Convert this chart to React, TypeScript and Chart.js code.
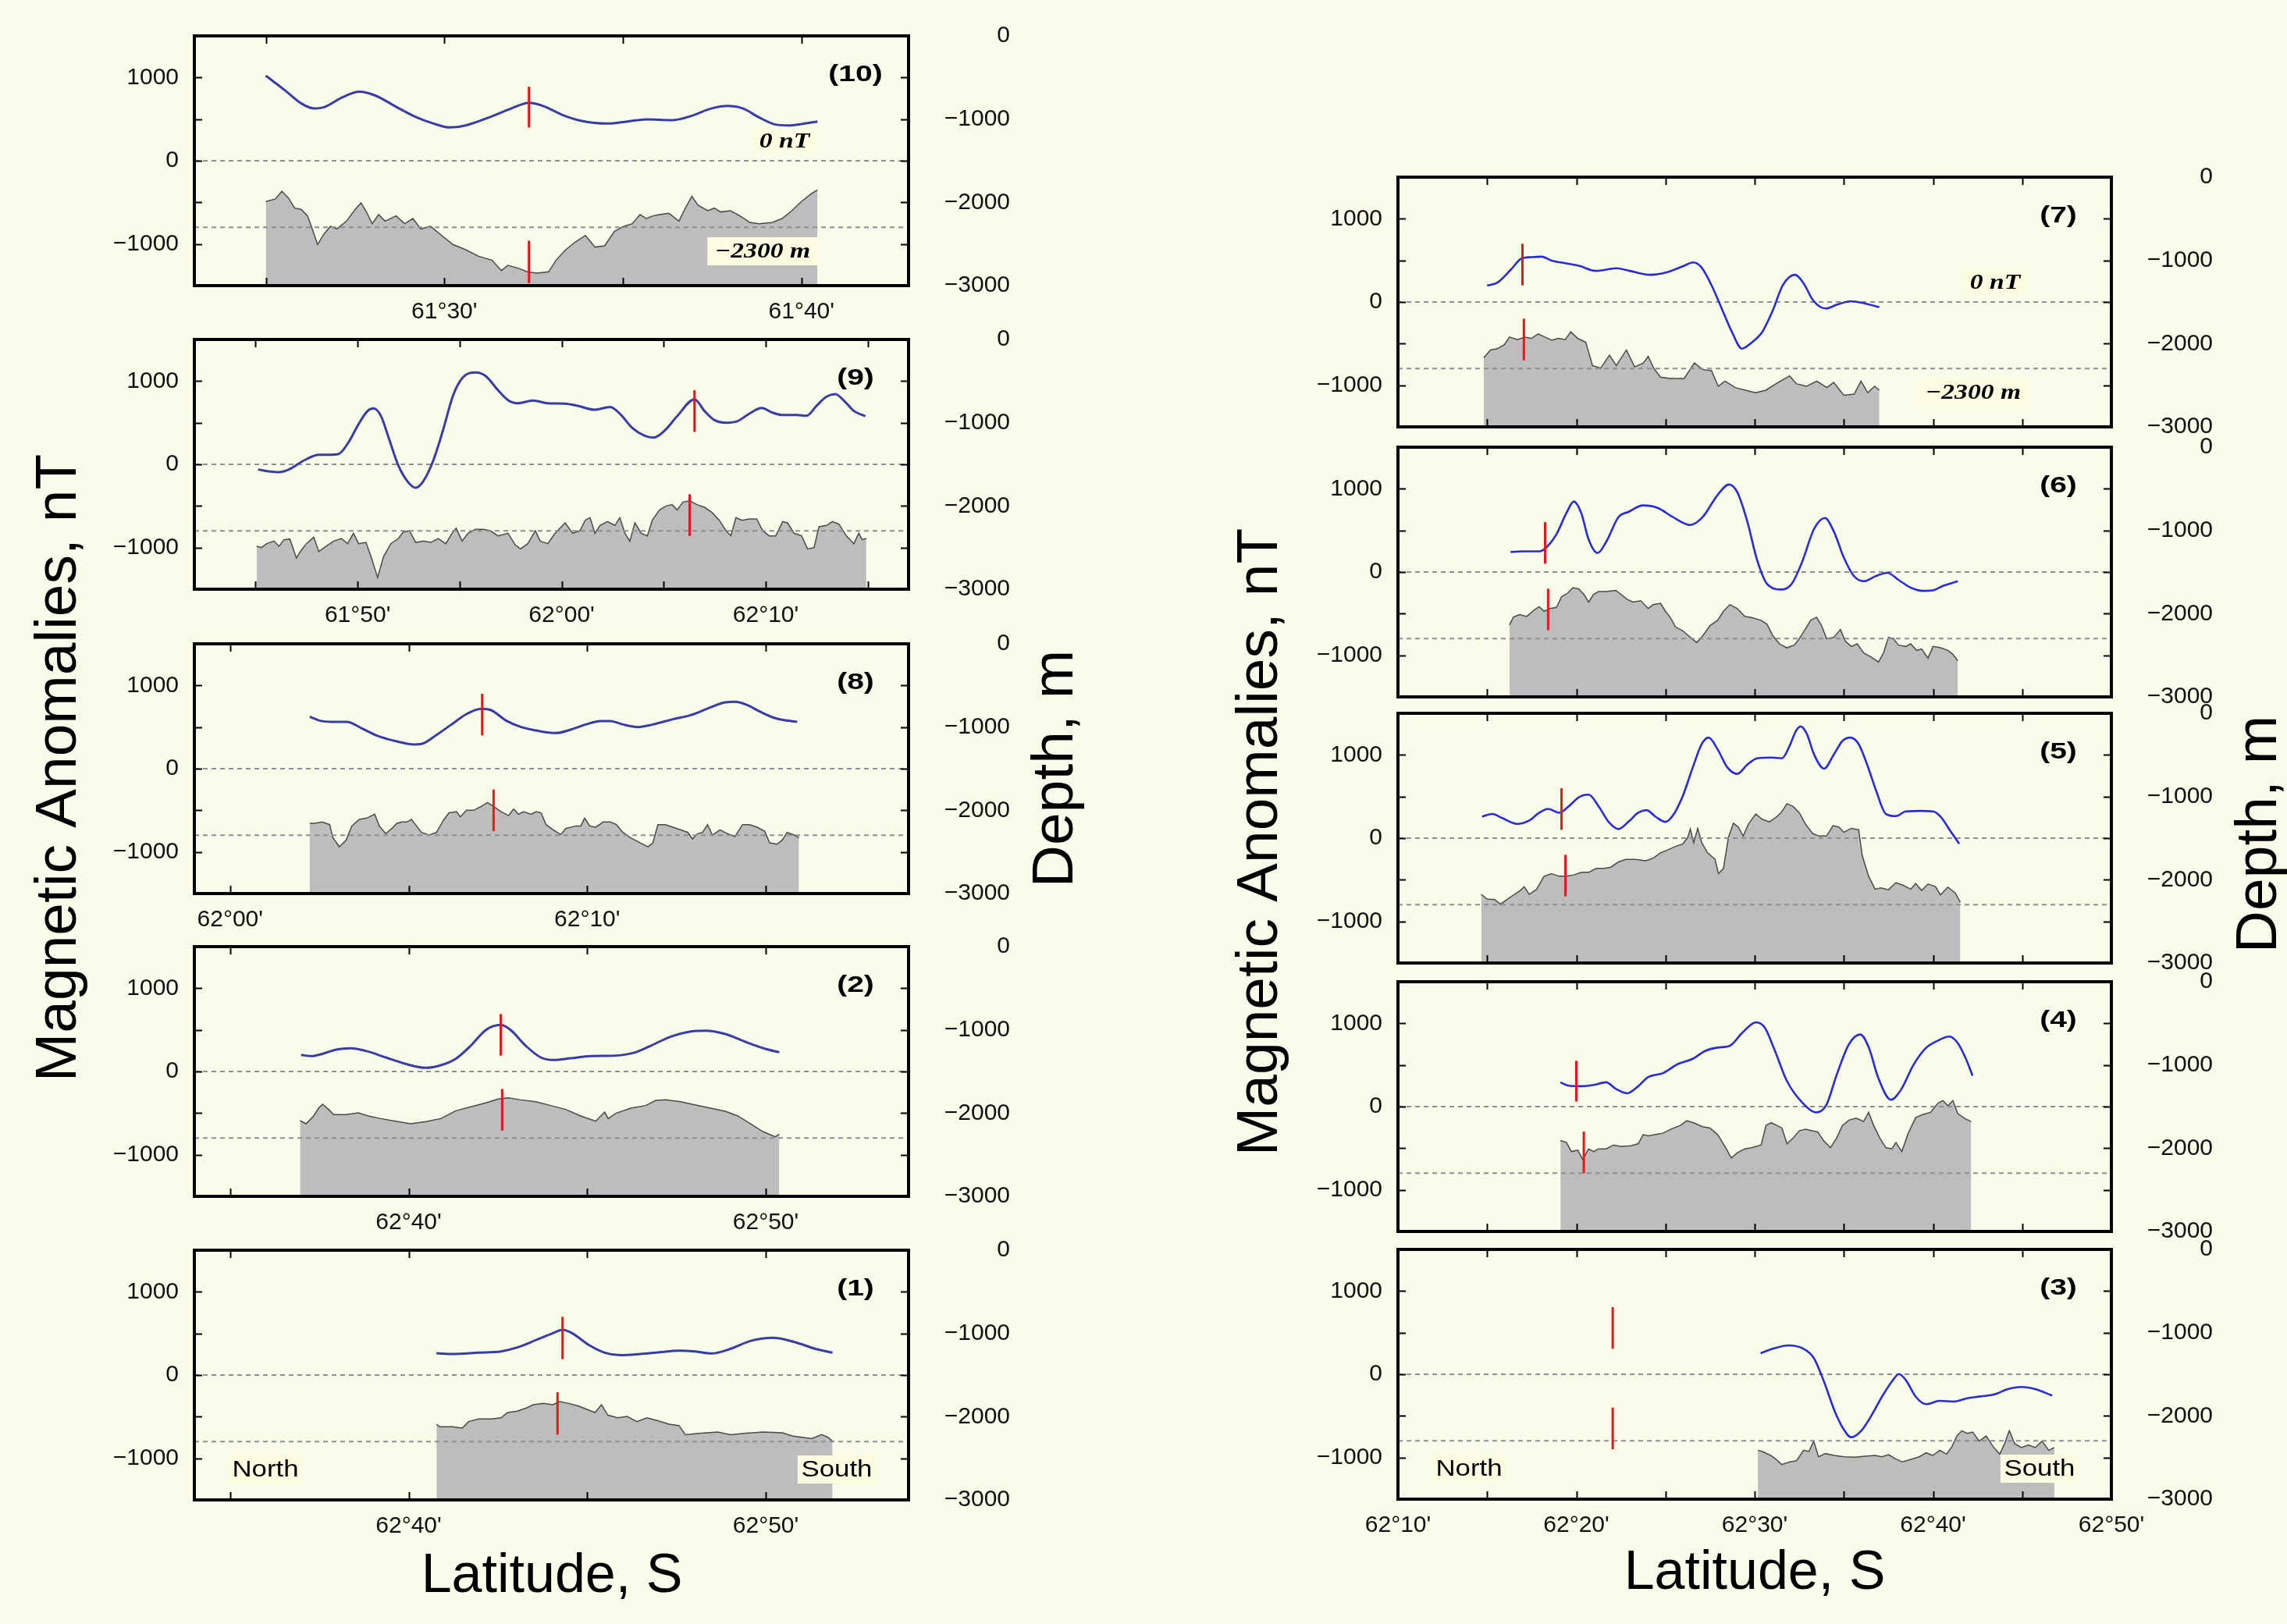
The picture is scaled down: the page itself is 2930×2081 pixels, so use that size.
import React, { useEffect, useRef } from "react";
import { Chart, registerables } from "chart.js";

Chart.register(...registerables);

const BG = "#F7FDE8";
const SANS = "'Liberation Sans', Arial, Helvetica, sans-serif";
const SERIF = "'Liberation Serif', 'Times New Roman', serif";

// reference values
const ZERO_NT = 0;
const REF_DEPTH = -2300;
const NT_MIN = -1500;
const NT_MAX = 1500;
const DEPTH_MIN = -3000;
const DEPTH_MAX = 0;
const NT_TICKS = [-1000, -500, 0, 500, 1000];
const DEPTH_TICKS = [0, -1000, -2000, -3000];

// ---------- Profile (10)  lat = minutes past 61°
const P10_MAG = [[25.0,1022],[25.54,845],[25.99,690],[26.36,627],[26.63,643],[27.17,767],[27.62,829],[28.07,783],[28.61,658],[29.16,534],[29.7,447],[30.15,400],[30.6,425],[31.33,534],[31.87,627],[32.37,696],[32.77,658],[33.31,550],[33.85,478],[34.58,447],[35.12,472],[35.66,497],[36.39,488],[36.93,540],[37.47,627],[37.92,658],[38.37,627],[38.82,519],[39.28,435],[39.64,425],[40.0,441],[40.45,472]];
const P10_BATH = [[25.0,-1990],[25.27,-1959],[25.45,-1866],[25.63,-1944],[25.81,-2069],[25.99,-2084],[26.17,-2162],[26.3,-2319],[26.45,-2506],[26.63,-2381],[26.81,-2287],[26.99,-2319],[27.26,-2225],[27.53,-2069],[27.67,-2006],[27.8,-2100],[27.98,-2256],[28.16,-2147],[28.34,-2225],[28.65,-2162],[28.89,-2256],[29.12,-2194],[29.34,-2319],[29.61,-2287],[29.88,-2381],[30.24,-2506],[30.6,-2569],[30.96,-2647],[31.33,-2694],[31.6,-2819],[31.78,-2756],[32.05,-2788],[32.32,-2834],[32.59,-2850],[32.92,-2834],[33.13,-2694],[33.4,-2569],[33.67,-2475],[33.95,-2397],[34.22,-2537],[34.49,-2522],[34.76,-2350],[35.03,-2287],[35.26,-2256],[35.48,-2147],[35.66,-2194],[35.84,-2162],[36.02,-2147],[36.29,-2131],[36.57,-2225],[36.75,-2069],[36.93,-1928],[37.11,-2037],[37.38,-2100],[37.56,-2069],[37.74,-2115],[38.01,-2100],[38.28,-2162],[38.55,-2240],[38.82,-2256],[39.19,-2240],[39.46,-2194],[39.73,-2100],[40.0,-1990],[40.27,-1897],[40.45,-1850]];
const P10_MAG_MARK = [[32.37,400,890]];
const P10_BATH_MARK = [[32.37,-2970,-2460]];

// ---------- Profile (9)  lat = minutes past 61°
const P9_MAG = [[45.12,-62],[45.66,-84],[46.15,-94],[46.63,-62],[47.37,47],[48.1,116],[48.59,116],[49.07,125],[49.56,266],[50.05,484],[50.49,641],[50.78,672],[51.15,578],[51.51,328],[52.0,-16],[52.49,-219],[52.85,-281],[53.22,-203],[53.71,47],[54.2,422],[54.68,828],[55.17,1047],[55.78,1103],[56.27,1062],[56.88,891],[57.37,772],[57.85,734],[58.59,766],[59.32,734],[60.17,728],[60.78,703],[61.63,656],[62.37,688],[62.85,609],[63.46,438],[64.07,344],[64.51,322],[65.05,406],[65.66,578],[66.51,781],[67.0,641],[67.49,531],[68.1,500],[68.59,516],[69.2,609],[69.8,678],[70.29,625],[70.78,594],[71.51,594],[72.0,584],[72.49,703],[72.98,813],[73.41,844],[73.83,766],[74.32,641],[74.88,578]];
const P9_BATH = [[45.05,-2484],[45.29,-2500],[45.54,-2453],[45.9,-2422],[46.15,-2484],[46.39,-2406],[46.68,-2397],[47.0,-2625],[47.24,-2531],[47.49,-2453],[47.85,-2375],[48.1,-2547],[48.46,-2484],[48.83,-2422],[49.2,-2391],[49.51,-2453],[49.8,-2328],[50.05,-2453],[50.41,-2438],[50.66,-2609],[50.98,-2859],[51.27,-2609],[51.63,-2453],[52.0,-2391],[52.24,-2313],[52.54,-2297],[52.85,-2438],[53.22,-2422],[53.59,-2438],[53.95,-2391],[54.32,-2453],[54.63,-2328],[54.83,-2266],[55.12,-2422],[55.41,-2328],[55.78,-2281],[56.15,-2281],[56.51,-2297],[56.88,-2359],[57.37,-2328],[57.73,-2469],[57.98,-2516],[58.34,-2453],[58.71,-2297],[58.95,-2422],[59.32,-2453],[59.68,-2328],[60.17,-2203],[60.54,-2328],[60.9,-2297],[61.15,-2172],[61.39,-2141],[61.63,-2328],[61.88,-2234],[62.24,-2188],[62.61,-2234],[62.85,-2141],[63.1,-2328],[63.34,-2422],[63.59,-2203],[63.9,-2328],[64.2,-2359],[64.44,-2172],[64.8,-2047],[65.12,-2000],[65.41,-1984],[65.66,-2047],[65.95,-1953],[66.27,-1938],[66.63,-1984],[67.0,-2016],[67.37,-2078],[67.73,-2172],[68.05,-2297],[68.29,-2359],[68.54,-2141],[68.83,-2172],[69.2,-2156],[69.56,-2156],[69.85,-2297],[70.17,-2359],[70.49,-2359],[70.83,-2188],[71.07,-2203],[71.39,-2328],[71.76,-2359],[72.05,-2516],[72.37,-2500],[72.61,-2250],[72.98,-2234],[73.27,-2188],[73.59,-2219],[73.95,-2359],[74.32,-2453],[74.56,-2328],[74.73,-2406],[74.93,-2391]];
const P9_MAG_MARK = [[66.51,390,890]];
const P9_BATH_MARK = [[66.27,-2360,-1860]];

// ---------- Profile (8)  lat = minutes past 62°
const P8_MAG = [[2.23,625],[2.51,578],[2.86,563],[3.27,563],[3.69,484],[4.11,397],[4.67,328],[5.15,291],[5.36,297],[5.78,406],[6.2,531],[6.62,656],[7.03,719],[7.31,703],[7.73,578],[8.15,500],[8.57,459],[9.12,428],[9.54,469],[9.96,531],[10.38,572],[10.65,572],[11.0,531],[11.42,500],[11.84,531],[12.4,594],[12.88,641],[13.44,734],[13.86,797],[14.14,803],[14.48,766],[14.83,688],[15.25,609],[15.6,578],[15.88,563]];
const P8_BATH = [[2.23,-2156],[2.37,-2156],[2.58,-2141],[2.79,-2172],[2.88,-2328],[3.06,-2438],[3.25,-2359],[3.41,-2188],[3.62,-2109],[3.83,-2094],[4.05,-2047],[4.18,-2188],[4.36,-2281],[4.53,-2219],[4.67,-2156],[4.81,-2141],[4.95,-2141],[5.08,-2109],[5.22,-2188],[5.36,-2266],[5.57,-2297],[5.78,-2266],[5.99,-2109],[6.13,-2031],[6.34,-2016],[6.45,-2078],[6.62,-2000],[6.82,-2000],[7.03,-1953],[7.21,-1906],[7.38,-1953],[7.59,-2016],[7.8,-2063],[7.94,-1984],[8.08,-2047],[8.22,-2016],[8.43,-2047],[8.57,-2016],[8.71,-2031],[8.85,-2172],[9.05,-2234],[9.26,-2291],[9.4,-2219],[9.68,-2188],[9.82,-2188],[9.93,-2094],[10.07,-2188],[10.24,-2203],[10.45,-2141],[10.65,-2141],[10.82,-2172],[11.0,-2266],[11.21,-2328],[11.49,-2391],[11.7,-2438],[11.84,-2391],[11.98,-2172],[12.19,-2172],[12.4,-2203],[12.61,-2234],[12.82,-2266],[12.95,-2344],[13.09,-2281],[13.23,-2266],[13.37,-2172],[13.51,-2297],[13.72,-2234],[13.93,-2281],[14.14,-2313],[14.35,-2172],[14.55,-2172],[14.76,-2203],[14.97,-2250],[15.11,-2391],[15.32,-2406],[15.46,-2359],[15.6,-2266],[15.79,-2297],[15.93,-2328]];
const P8_MAG_MARK = [[7.06,400,900]];
const P8_BATH_MARK = [[7.38,-2250,-1750]];

// ---------- Profile (2)  lat = minutes past 62°
const P2_MAG = [[36.99,200],[37.27,184],[37.62,216],[37.97,263],[38.38,278],[38.8,247],[39.36,169],[39.92,91],[40.48,44],[40.9,75],[41.32,153],[41.74,309],[42.16,497],[42.58,559],[42.86,497],[43.28,309],[43.7,169],[44.05,138],[44.54,159],[45.1,184],[45.8,191],[46.36,231],[46.78,309],[47.34,419],[47.9,481],[48.31,491],[48.87,450],[49.43,356],[49.99,272],[50.38,231]];
const P2_BATH = [[36.96,-2091],[37.13,-2128],[37.34,-2034],[37.48,-1941],[37.59,-1894],[37.76,-1956],[37.9,-2019],[38.24,-2019],[38.59,-1997],[38.87,-2034],[39.22,-2066],[39.64,-2097],[40.06,-2128],[40.48,-2103],[40.9,-2066],[41.32,-1972],[41.74,-1925],[42.16,-1878],[42.51,-1831],[42.79,-1816],[43.14,-1841],[43.56,-1863],[43.98,-1909],[44.4,-1956],[44.82,-2034],[45.24,-2097],[45.38,-2034],[45.49,-1988],[45.59,-2066],[45.8,-2003],[46.22,-1941],[46.64,-1909],[46.92,-1847],[47.2,-1841],[47.62,-1863],[48.04,-1903],[48.46,-1941],[48.87,-1978],[49.22,-2034],[49.57,-2128],[49.92,-2222],[50.27,-2284],[50.38,-2253]];
const P2_MAG_MARK = [[42.58,190,690]];
const P2_BATH_MARK = [[42.62,-2210,-1710]];

// ---------- Profile (1)  lat = minutes past 62°
const P1_MAG = [[40.78,263],[41.23,253],[41.96,269],[42.59,284],[43.04,331],[43.59,425],[44.04,503],[44.31,544],[44.58,503],[45.04,363],[45.49,269],[45.94,238],[46.49,253],[47.03,275],[47.57,294],[48.03,284],[48.48,259],[49.02,316],[49.57,409],[50.2,447],[50.83,394],[51.38,316],[51.87,269]];
const P1_BATH = [[40.78,-2091],[40.87,-2122],[41.23,-2122],[41.5,-2138],[41.68,-2059],[41.96,-2028],[42.32,-2028],[42.59,-2013],[42.77,-1950],[43.04,-1934],[43.31,-1894],[43.49,-1856],[43.77,-1841],[44.04,-1856],[44.22,-1819],[44.49,-1841],[44.76,-1872],[45.04,-1919],[45.22,-1950],[45.4,-1856],[45.58,-1981],[45.85,-2013],[46.12,-1997],[46.39,-2059],[46.67,-2013],[46.94,-2044],[47.3,-2091],[47.57,-2106],[47.75,-2216],[48.12,-2200],[48.66,-2184],[49.02,-2216],[49.38,-2200],[49.93,-2184],[50.47,-2194],[50.74,-2231],[51.01,-2247],[51.29,-2263],[51.56,-2216],[51.74,-2247],[51.87,-2294]];
const P1_MAG_MARK = [[44.31,190,700]];
const P1_BATH_MARK = [[44.17,-2216,-1706]];

// ---------- Profile (7)  lat = minutes past 62°
const P7_MAG = [[15.0,196],[15.57,233],[16.33,389],[16.91,520],[17.48,539],[18.05,545],[18.62,498],[19.38,467],[20.14,436],[21.1,374],[22.24,405],[23.0,374],[24.15,327],[25.1,358],[26.05,436],[26.55,476],[27.0,420],[27.58,202],[28.15,-78],[28.72,-358],[29.29,-560],[29.86,-482],[30.43,-358],[31.0,-109],[31.58,202],[32.26,327],[32.72,233],[33.29,16],[33.98,-78],[34.63,-31],[35.39,9],[36.15,-16],[36.99,-62]];
const P7_BATH = [[14.81,-2170],[15.19,-2076],[15.57,-2061],[15.95,-2014],[16.26,-1921],[16.71,-1952],[17.1,-1921],[17.48,-1936],[17.86,-1883],[18.24,-1921],[18.62,-1958],[19.0,-1936],[19.38,-1952],[19.69,-1858],[20.07,-1936],[20.53,-1983],[20.91,-2263],[21.37,-2294],[21.86,-2139],[22.24,-2263],[22.81,-2076],[23.27,-2279],[23.76,-2232],[24.03,-2154],[24.34,-2294],[24.72,-2403],[25.29,-2419],[26.05,-2419],[26.62,-2232],[27.08,-2310],[27.58,-2325],[27.96,-2512],[28.34,-2450],[28.91,-2528],[29.48,-2559],[30.06,-2590],[30.63,-2559],[31.2,-2481],[31.96,-2388],[32.34,-2481],[32.91,-2512],[33.48,-2450],[34.05,-2528],[34.43,-2466],[35.0,-2621],[35.58,-2606],[35.96,-2450],[36.34,-2590],[36.72,-2512],[36.99,-2559]];
const P7_MAG_MARK = [[16.98,200,700]];
const P7_BATH_MARK = [[17.06,-2200,-1700]];

// ---------- Profile (6)
const P6_MAG = [[16.31,242],[17.08,248],[17.92,248],[18.33,298],[18.89,455],[19.44,706],[19.86,847],[20.28,706],[20.69,392],[21.19,229],[21.67,361],[22.36,659],[22.92,722],[23.75,800],[24.58,769],[25.42,659],[26.39,565],[27.08,659],[27.92,925],[28.56,1051],[29.03,957],[29.58,612],[30.14,141],[30.69,-141],[31.53,-210],[32.08,-141],[32.64,110],[33.33,518],[33.94,649],[34.44,486],[35.0,173],[35.56,-47],[36.11,-110],[36.81,-47],[37.44,-9],[38.06,-94],[38.75,-188],[39.44,-226],[40.0,-220],[40.56,-166],[41.39,-110]];
const P6_BATH = [[16.25,-2137],[16.47,-2043],[16.81,-2011],[17.22,-2033],[17.64,-1955],[17.92,-1917],[18.19,-1971],[18.53,-1939],[18.89,-1924],[19.17,-1798],[19.53,-1751],[19.81,-1688],[20.14,-1704],[20.42,-1767],[20.69,-1861],[20.97,-1767],[21.25,-1735],[21.67,-1735],[22.22,-1720],[22.5,-1767],[22.86,-1829],[23.19,-1861],[23.61,-1845],[24.03,-1939],[24.31,-1892],[24.72,-1876],[25.0,-1971],[25.28,-2049],[25.56,-2159],[25.97,-2206],[26.39,-2284],[26.75,-2347],[27.08,-2269],[27.5,-2143],[27.92,-2080],[28.25,-1971],[28.61,-1892],[29.03,-1939],[29.44,-2033],[29.86,-2049],[30.36,-2080],[30.69,-2127],[31.03,-2269],[31.39,-2363],[31.81,-2410],[32.22,-2378],[32.5,-2300],[32.78,-2206],[33.14,-2080],[33.47,-2043],[33.75,-2143],[34.03,-2300],[34.44,-2284],[34.81,-2190],[35.08,-2331],[35.42,-2394],[35.75,-2363],[36.11,-2473],[36.53,-2520],[36.94,-2582],[37.22,-2473],[37.5,-2284],[37.78,-2300],[38.06,-2378],[38.47,-2394],[38.75,-2363],[39.08,-2441],[39.36,-2425],[39.72,-2535],[40.0,-2394],[40.42,-2410],[40.83,-2441],[41.11,-2488],[41.39,-2567]];
const P6_MAG_MARK = [[18.25,100,600]];
const P6_BATH_MARK = [[18.42,-2200,-1700]];

// ---------- Profile (5)
const P5_MAG = [[14.72,258],[15.28,290],[15.83,243],[16.67,171],[17.36,212],[17.92,305],[18.42,352],[19.03,305],[19.58,383],[20.14,492],[20.69,523],[21.25,383],[21.81,196],[22.36,109],[22.92,196],[23.47,305],[23.94,336],[24.44,258],[25.0,196],[25.42,274],[25.97,507],[26.53,850],[27.03,1130],[27.42,1208],[27.92,1068],[28.47,850],[29.03,772],[29.58,881],[30.14,959],[30.97,968],[31.53,959],[31.94,1099],[32.31,1286],[32.58,1342],[32.92,1255],[33.33,1006],[33.89,834],[34.44,1006],[34.92,1167],[35.36,1208],[35.83,1130],[36.31,881],[36.81,570],[37.36,290],[37.92,265],[38.47,321],[39.31,327],[40.0,321],[40.42,258],[40.97,87],[41.47,-68]];
const P5_BATH = [[14.67,-2175],[15.0,-2232],[15.42,-2238],[15.75,-2294],[16.11,-2238],[16.53,-2175],[16.86,-2129],[17.08,-2082],[17.36,-2175],[17.78,-2113],[18.19,-1958],[18.61,-1926],[19.03,-1958],[19.44,-1958],[19.86,-1942],[20.28,-1911],[20.69,-1911],[21.11,-1864],[21.53,-1864],[21.94,-1849],[22.36,-1786],[22.78,-1755],[23.33,-1755],[23.89,-1771],[24.31,-1740],[24.72,-1677],[25.14,-1640],[25.56,-1600],[25.97,-1569],[26.25,-1491],[26.39,-1391],[26.58,-1553],[26.81,-1382],[27.03,-1553],[27.36,-1677],[27.78,-1755],[27.97,-1926],[28.25,-1864],[28.53,-1491],[28.81,-1320],[29.08,-1366],[29.36,-1475],[29.64,-1335],[30.06,-1211],[30.42,-1273],[30.83,-1304],[31.25,-1242],[31.53,-1180],[31.81,-1086],[32.14,-1117],[32.5,-1195],[32.86,-1335],[33.25,-1444],[33.61,-1475],[34.03,-1475],[34.39,-1351],[34.72,-1366],[35.0,-1429],[35.42,-1382],[35.83,-1398],[36.03,-1709],[36.39,-1958],[36.75,-2113],[37.08,-2098],[37.5,-2120],[37.92,-2035],[38.33,-2067],[38.75,-2113],[39.03,-2045],[39.36,-2129],[39.72,-2051],[40.14,-2082],[40.42,-2182],[40.83,-2088],[41.25,-2160],[41.53,-2269]];
const P5_MAG_MARK = [[19.17,100,600]];
const P5_BATH_MARK = [[19.39,-2200,-1700]];

// ---------- Profile (4)
const P4_MAG = [[19.11,292],[19.58,251],[20.28,245],[20.97,260],[21.67,292],[22.22,213],[22.86,160],[23.47,245],[24.03,354],[24.86,402],[25.69,511],[26.53,574],[27.22,668],[27.92,709],[28.61,731],[29.31,888],[30.08,1013],[30.56,951],[31.11,684],[31.81,307],[32.64,56],[33.47,-69],[34.03,25],[34.58,370],[35.28,747],[35.92,866],[36.39,715],[36.94,339],[37.64,82],[38.19,198],[38.89,496],[39.58,700],[40.28,794],[40.92,841],[41.39,762],[41.81,590],[42.22,370]];
const P4_BATH = [[19.11,-1908],[19.44,-1930],[19.72,-2040],[20.08,-2024],[20.36,-2134],[20.69,-2008],[20.97,-2040],[21.25,-2008],[21.67,-2008],[22.08,-1961],[22.5,-1977],[23.06,-1971],[23.47,-1946],[23.75,-1836],[24.03,-1851],[24.44,-1836],[24.86,-1820],[25.28,-1773],[25.83,-1726],[26.19,-1669],[26.58,-1694],[27.08,-1741],[27.5,-1757],[27.92,-1836],[28.33,-1977],[28.69,-2118],[29.03,-2055],[29.44,-2008],[29.86,-1993],[30.36,-1961],[30.64,-1726],[30.92,-1694],[31.25,-1726],[31.53,-1757],[31.81,-1946],[32.14,-1883],[32.5,-1789],[32.86,-1773],[33.19,-1789],[33.53,-1804],[33.89,-1914],[34.25,-1993],[34.58,-1883],[34.92,-1726],[35.28,-1663],[35.69,-1638],[36.11,-1679],[36.39,-1569],[36.67,-1726],[37.03,-1883],[37.36,-1993],[37.69,-2008],[37.92,-1930],[38.25,-2040],[38.61,-1820],[39.03,-1632],[39.44,-1594],[39.86,-1569],[40.28,-1459],[40.56,-1428],[40.83,-1491],[41.11,-1428],[41.39,-1585],[41.81,-1647],[42.14,-1679]];
const P4_MAG_MARK = [[20.0,60,550]];
const P4_BATH_MARK = [[20.42,-2300,-1800]];

// ---------- Profile (3)
const P3_MAG = [[30.33,253],[31.02,306],[31.9,347],[32.74,306],[33.31,197],[33.88,-84],[34.46,-428],[34.95,-647],[35.41,-756],[35.98,-678],[36.56,-491],[37.13,-272],[37.7,-84],[38.09,3],[38.47,-69],[39.04,-272],[39.61,-359],[40.38,-319],[41.14,-328],[41.91,-288],[42.67,-266],[43.44,-241],[44.2,-178],[44.96,-153],[45.73,-178],[46.68,-256]];
const P3_BATH = [[30.18,-2413],[30.44,-2428],[30.9,-2475],[31.21,-2522],[31.51,-2584],[31.97,-2553],[32.35,-2538],[32.74,-2413],[33.04,-2428],[33.31,-2303],[33.58,-2491],[33.96,-2453],[34.46,-2475],[35.03,-2491],[35.6,-2497],[36.18,-2484],[36.75,-2475],[37.13,-2491],[37.51,-2466],[37.9,-2516],[38.28,-2553],[38.77,-2522],[39.23,-2491],[39.61,-2444],[39.99,-2475],[40.38,-2413],[40.76,-2459],[41.07,-2366],[41.34,-2241],[41.61,-2178],[41.91,-2209],[42.22,-2194],[42.59,-2303],[42.98,-2241],[43.36,-2366],[43.74,-2459],[44.01,-2334],[44.28,-2178],[44.58,-2334],[44.96,-2381],[45.35,-2350],[45.73,-2381],[46.11,-2303],[46.49,-2413],[46.8,-2381]];
const P3_MAG_MARK = [[22.04,306,806]];
const P3_BATH_MARK = [[22.04,-2400,-1900]];

// ---------- layout (pixels)
const COL_X = [249, 1791];
const COL_W = [915, 914];
const BOX_H = 320;
const AX_L = 130;
const AX_R = 130;
const PAD_T = 24;
const AX_B = 70;

interface PanelDef {
  name: string;
  col: number;
  top: number;
  deg: number;
  xMin: number;
  xMax: number;
  xLabels: boolean;
  mag: number[][];
  bath: number[][];
  magMark: number[][];
  bathMark: number[][];
  refLabels?: boolean;
  nsLabels?: boolean;
}

const PANELS: PanelDef[] = [
  { name: "(10)", col: 0, top: 46, deg: 61, xMin: 23, xMax: 43, xLabels: true, mag: P10_MAG, bath: P10_BATH, magMark: P10_MAG_MARK, bathMark: P10_BATH_MARK, refLabels: true },
  { name: "(9)", col: 0, top: 435, deg: 61, xMin: 42, xMax: 77, xLabels: true, mag: P9_MAG, bath: P9_BATH, magMark: P9_MAG_MARK, bathMark: P9_BATH_MARK },
  { name: "(8)", col: 0, top: 825, deg: 62, xMin: -1, xMax: 19, xLabels: true, mag: P8_MAG, bath: P8_BATH, magMark: P8_MAG_MARK, bathMark: P8_BATH_MARK },
  { name: "(2)", col: 0, top: 1213, deg: 62, xMin: 34, xMax: 54, xLabels: true, mag: P2_MAG, bath: P2_BATH, magMark: P2_MAG_MARK, bathMark: P2_BATH_MARK },
  { name: "(1)", col: 0, top: 1602, deg: 62, xMin: 34, xMax: 54, xLabels: true, mag: P1_MAG, bath: P1_BATH, magMark: P1_MAG_MARK, bathMark: P1_BATH_MARK, nsLabels: true },
  { name: "(7)", col: 1, top: 227, deg: 62, xMin: 10, xMax: 50, xLabels: false, mag: P7_MAG, bath: P7_BATH, magMark: P7_MAG_MARK, bathMark: P7_BATH_MARK, refLabels: true },
  { name: "(6)", col: 1, top: 573, deg: 62, xMin: 10, xMax: 50, xLabels: false, mag: P6_MAG, bath: P6_BATH, magMark: P6_MAG_MARK, bathMark: P6_BATH_MARK },
  { name: "(5)", col: 1, top: 914, deg: 62, xMin: 10, xMax: 50, xLabels: false, mag: P5_MAG, bath: P5_BATH, magMark: P5_MAG_MARK, bathMark: P5_BATH_MARK },
  { name: "(4)", col: 1, top: 1258, deg: 62, xMin: 10, xMax: 50, xLabels: false, mag: P4_MAG, bath: P4_BATH, magMark: P4_MAG_MARK, bathMark: P4_BATH_MARK },
  { name: "(3)", col: 1, top: 1601, deg: 62, xMin: 10, xMax: 50, xLabels: true, mag: P3_MAG, bath: P3_BATH, magMark: P3_MAG_MARK, bathMark: P3_BATH_MARK, nsLabels: true },
];

const MAG_COLORS = ["#3b3ba6", "#2a2ad6"];
const BATH_FILL = "#BDBDBD";
const BATH_LINE = "#4a4a4a";
const RED = "#E3191E";
const DASH = "#8d8d98";

const fmtLat = (v: number) => {
  const d = Math.floor(v / 60 + 1e-9);
  const m = Math.round(v - d * 60);
  return `${d}°${String(m).padStart(2, "0")}'`;
};
const fmtNum = (v: number) => (v < 0 ? "\u2212" + Math.abs(v) : String(v));

function drawText(ctx: CanvasRenderingContext2D, text: string, cx: number, cy: number, font: string, stretch: number, bg?: string, padX = 7, boxH = 0) {
  ctx.save();
  ctx.translate(cx, cy);
  ctx.scale(stretch, 1);
  ctx.font = font;
  const w = ctx.measureText(text).width;
  if (bg) {
    ctx.fillStyle = bg;
    ctx.fillRect(-w / 2 - padX, -boxH / 2, w + padX * 2, boxH);
  }
  ctx.fillStyle = "#000";
  ctx.textAlign = "center";
  ctx.textBaseline = "middle";
  ctx.fillText(text, 0, 1);
  ctx.restore();
}

const decorPlugin = {
  id: "decor",
  afterDraw(chart: any, _args: any, opts: any) {
    const { ctx, chartArea: a } = chart;
    const xs = chart.scales.x;
    const ys = chart.scales.y;
    const TL = 10;
    ctx.save();
    ctx.strokeStyle = "#000";
    ctx.lineWidth = 2;
    ctx.beginPath();
    xs.ticks.forEach((t: any) => {
      const px = Math.round(xs.getPixelForValue(t.value)) + 0.5;
      ctx.moveTo(px, a.bottom);
      ctx.lineTo(px, a.bottom - TL);
      ctx.moveTo(px, a.top);
      ctx.lineTo(px, a.top + TL);
    });
    ys.ticks.forEach((t: any) => {
      const py = Math.round(ys.getPixelForValue(t.value)) + 0.5;
      ctx.moveTo(a.left, py);
      ctx.lineTo(a.left + TL, py);
      ctx.moveTo(a.right, py);
      ctx.lineTo(a.right - TL, py);
    });
    ctx.stroke();
    ctx.lineWidth = 4;
    ctx.strokeRect(a.left, a.top, a.right - a.left, a.bottom - a.top);

    const st = 1.2;
    drawText(ctx, opts.name, a.right - 68, a.top + 49, `bold 30px ${SANS}`, 1.3);
    const labelBg = "#FCFCE0";
    if (opts.refLabels) {
      const off = opts.col === 0 ? [159, 187] : [149, 177];
      drawText(ctx, "0 nT", a.right - off[0], a.top + 135, `italic bold 28px ${SERIF}`, st, labelBg, 7, 30);
      drawText(ctx, "\u22122300 m", a.right - off[1], a.top + 276, `italic bold 28px ${SERIF}`, st, labelBg, 8, 36);
    }
    if (opts.nsLabels) {
      drawText(ctx, "North", a.left + 91, a.top + 281, `30px ${SANS}`, 1.16, labelBg, 4, 36);
      drawText(ctx, "South", a.right - 92, a.top + 281, `30px ${SANS}`, 1.16, labelBg, 4, 36);
    }
    ctx.restore();
  },
};

const toXY = (deg: number, arr: number[][]) => arr.map((p) => ({ x: deg * 60 + p[0], y: p[1] }));
const toMarks = (deg: number, arr: number[][]) => {
  const out: any[] = [];
  arr.forEach((m) => {
    out.push({ x: deg * 60 + m[0], y: m[1] });
    out.push({ x: deg * 60 + m[0], y: m[2] });
    out.push({ x: deg * 60 + m[0], y: null });
  });
  return out;
};

function makeConfig(p: PanelDef): any {
  const xMin = p.deg * 60 + p.xMin;
  const xMax = p.deg * 60 + p.xMax;
  const xTicks: number[] = [];
  for (let v = Math.ceil(xMin / 5) * 5; v <= xMax; v += 5) xTicks.push(v);
  const tickFont = { family: SANS, size: 30 };
  const base = {
    pointRadius: 0,
    pointHoverRadius: 0,
    spanGaps: false,
  };
  return {
    type: "line",
    data: {
      datasets: [
        { ...base, data: toMarks(p.deg, p.magMark), yAxisID: "y", borderColor: RED, borderWidth: 3, fill: false, order: 0 },
        { ...base, data: toMarks(p.deg, p.bathMark), yAxisID: "y2", borderColor: RED, borderWidth: 3, fill: false, order: 0 },
        { ...base, data: toXY(p.deg, p.mag), yAxisID: "y", borderColor: MAG_COLORS[p.col], borderWidth: p.col === 0 ? 3 : 2.6, cubicInterpolationMode: "monotone", fill: false, order: 1 },
        { ...base, data: [{ x: xMin, y: ZERO_NT }, { x: xMax, y: ZERO_NT }], yAxisID: "y", borderColor: DASH, borderWidth: 2, borderDash: [6, 5], fill: false, order: 2 },
        { ...base, data: [{ x: xMin, y: REF_DEPTH }, { x: xMax, y: REF_DEPTH }], yAxisID: "y2", borderColor: DASH, borderWidth: 2, borderDash: [6, 5], fill: false, order: 2 },
        { ...base, data: toXY(p.deg, p.bath), yAxisID: "y2", borderColor: BATH_LINE, borderWidth: 1.5, backgroundColor: BATH_FILL, fill: "start", tension: 0, order: 3 },
      ],
    },
    options: {
      responsive: false,
      maintainAspectRatio: false,
      animation: false,
      devicePixelRatio: 1,
      events: [],
      layout: { padding: { top: PAD_T, left: 0, right: 0, bottom: 0 } },
      plugins: {
        legend: { display: false },
        tooltip: { enabled: false },
        decor: { name: p.name, col: p.col, refLabels: !!p.refLabels, nsLabels: !!p.nsLabels },
      },
      scales: {
        x: {
          type: "linear",
          position: "bottom",
          min: xMin,
          max: xMax,
          afterBuildTicks: (s: any) => {
            s.ticks = xTicks.map((v) => ({ value: v }));
          },
          afterFit: (s: any) => {
            s.height = AX_B;
            s.paddingLeft = 0;
            s.paddingRight = 0;
          },
          grid: { display: false, drawTicks: false },
          border: { display: false },
          ticks: {
            autoSkip: false,
            maxRotation: 0,
            minRotation: 0,
            padding: 16,
            color: "#111",
            font: tickFont,
            callback: (v: number) => (p.xLabels && Math.round(v) % 10 === 0 ? fmtLat(v) : ""),
          },
        },
        y: {
          type: "linear",
          position: "left",
          min: NT_MIN,
          max: NT_MAX,
          afterBuildTicks: (s: any) => {
            s.ticks = NT_TICKS.map((v) => ({ value: v }));
          },
          afterFit: (s: any) => {
            s.width = AX_L;
            s.paddingTop = 0;
            s.paddingBottom = 0;
          },
          grid: { display: false, drawTicks: false },
          border: { display: false },
          ticks: {
            padding: 20,
            color: "#111",
            font: tickFont,
            callback: (v: number) => (v % 1000 === 0 ? fmtNum(v) : ""),
          },
        },
        y2: {
          type: "linear",
          position: "right",
          min: DEPTH_MIN,
          max: DEPTH_MAX,
          afterBuildTicks: (s: any) => {
            s.ticks = DEPTH_TICKS.map((v) => ({ value: v }));
          },
          afterFit: (s: any) => {
            s.width = AX_R;
            s.paddingTop = 0;
            s.paddingBottom = 0;
          },
          grid: { display: false, drawTicks: false },
          border: { display: false },
          ticks: {
            padding: 19,
            crossAlign: "far",
            color: "#111",
            font: tickFont,
            callback: (v: number) => fmtNum(v),
          },
        },
      },
    },
    plugins: [decorPlugin],
  };
}

function PanelChart({ p }: { p: PanelDef }) {
  const ref = useRef<HTMLCanvasElement>(null);
  useEffect(() => {
    const chart = new Chart(ref.current as HTMLCanvasElement, makeConfig(p));
    return () => chart.destroy();
  }, [p]);
  const w = COL_W[p.col] + AX_L + AX_R;
  const h = BOX_H + PAD_T + AX_B;
  return (
    <canvas
      ref={ref}
      width={w}
      height={h}
      style={{ position: "absolute", left: COL_X[p.col] - AX_L, top: p.top - PAD_T, width: w, height: h }}
    />
  );
}

const TITLE_MAG = "Magnetic Anomalies, nT";
const TITLE_DEPTH = "Depth, m";
const TITLE_LAT = "Latitude, S";

function Titles() {
  const ref = useRef<HTMLCanvasElement>(null);
  useEffect(() => {
    const ctx = (ref.current as HTMLCanvasElement).getContext("2d") as CanvasRenderingContext2D;
    ctx.clearRect(0, 0, 2930, 2081);
    ctx.fillStyle = "#000";
    const vert = (t: string, x: number, y: number, size: number) => {
      ctx.save();
      ctx.translate(x, y);
      ctx.rotate(-Math.PI / 2);
      ctx.font = `${size}px ${SANS}`;
      ctx.textAlign = "center";
      ctx.textBaseline = "alphabetic";
      ctx.fillText(t, 0, 0);
      ctx.restore();
    };
    const horiz = (t: string, x: number, y: number, size: number) => {
      ctx.save();
      ctx.font = `${size}px ${SANS}`;
      ctx.textAlign = "center";
      ctx.textBaseline = "alphabetic";
      ctx.fillText(t, x, y);
      ctx.restore();
    };
    vert(TITLE_MAG, 97, 984, 75);
    vert(TITLE_DEPTH, 1374, 985, 75);
    vert(TITLE_MAG, 1636, 1079, 75);
    vert(TITLE_DEPTH, 2916, 1069, 75);
    horiz(TITLE_LAT, 707, 2040, 70);
    horiz(TITLE_LAT, 2248, 2036, 70);
  }, []);
  return <canvas ref={ref} width={2930} height={2081} style={{ position: "absolute", left: 0, top: 0, width: 2930, height: 2081 }} />;
}

export default function App() {
  useEffect(() => {
    document.body.style.margin = "0";
    document.body.style.background = BG;
  }, []);
  return (
    <div style={{ position: "absolute", left: 0, top: 0, width: 2930, height: 2081, background: BG, overflow: "hidden" }}>
      <Titles />
      {PANELS.map((p) => (
        <PanelChart key={p.name} p={p} />
      ))}
    </div>
  );
}
